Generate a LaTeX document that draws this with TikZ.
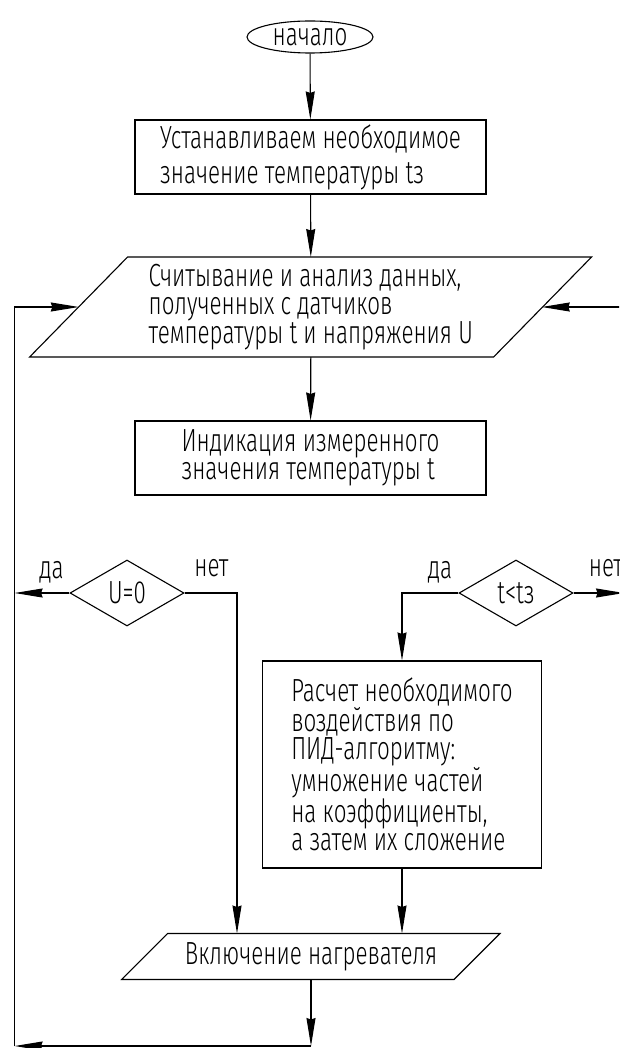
\documentclass[tikz,border=0pt]{standalone}
\usepackage{fontspec}
\IfFontExistsTF{Fira Sans Light}{\setmainfont{Fira Sans Light}[FakeStretch=0.70]}{\setmainfont{DejaVu Sans}[FakeStretch=0.62]}
\usetikzlibrary{shapes.geometric,arrows.meta}
\tikzset{
  blok/.style={draw,rectangle,inner sep=0pt,align=left},
  vvod/.style={inner sep=0pt,align=left},
  uslovie/.style={draw,diamond,inner sep=0pt},
  strelka/.style={->,>={Stealth[length=28pt,width=9pt,inset=1.5pt]}},
  metka/.style={inner sep=0pt}
}
\begin{document}
\begin{tikzpicture}[x=1pt,y=-1pt,line width=1.1pt,font=\fontsize{32}{28}\selectfont]
\clip (0,0) rectangle (619,1048);
\node[ellipse,draw,minimum width=126pt,minimum height=32pt,inner sep=0pt] (nachalo) at (310,37) {начало};
\node[blok,minimum width=351pt,minimum height=74pt,font=\fontsize{32}{35}\selectfont] (zadanie) at (310.5,157) {Устанавливаем необходимое\\значение температуры tз};
\node[vvod] (chtenie) at (310.8,307) {Считывание и анализ данных,\\полученных с датчиков\\температуры t и напряжения U};
\draw (chtenie.center) ++(-281.2,50) -- ++(464,0) -- ++(98,-100) -- ++(-464,0) -- cycle;
\node[blok,minimum width=351pt,minimum height=74pt,font=\fontsize{32}{26}\selectfont] (indikacia) at (310.5,458) {Индикация измеренного\\значения температуры t};
\node[uslovie,minimum width=114pt,minimum height=66pt] (proverkaU) at (127,593) {U=0};
\node[uslovie,minimum width=114pt,minimum height=66pt] (proverkaT) at (516,593) {t<tз};
\node[blok,minimum width=279pt,minimum height=207pt] (raschet) at (402,764.5) {Расчет необходимого\\воздействия по\\ПИД-алгоритму:\\умножение частей\\на коэффициенты,\\а затем их сложение};
\node[vvod] (nagrev) at (311,956.5) {Включение нагревателя};
\draw (nagrev.center) ++(-189.4,23) -- ++(332.4,0) -- ++(46,-46) -- ++(-332.4,0) -- cycle;
\node[metka] (daU) at (51.5,572) {да};
\node[metka] (netUm) at (211.5,568) {нет};
\node[metka] (daT) at (440,572) {да};
\node[metka] (netTm) at (606,568) {нет};
\coordinate (chtenieT) at ([yshift=50pt]chtenie.center);
\coordinate (chtenieB) at ([yshift=-50pt]chtenie.center);
\coordinate (chtenieL) at ([xshift=-232pt]chtenie.center);
\coordinate (chtenieR) at ([xshift=231pt]chtenie.center);
\coordinate (nagrevT) at ([yshift=23pt]nagrev.center);
\coordinate (nagrevB) at ([yshift=-23pt]nagrev.center);
\coordinate (ugol) at (14.6,1046);
\coordinate (sbor) at (311,1046);
\coordinate (netU) at (237,593);
\coordinate (netT) at (624,593);
\coordinate (sprava) at (624,307);
\draw[strelka] (nachalo) -- (zadanie);
\draw[strelka] (zadanie) -- (chtenieT);
\draw[strelka] (chtenieB) -- (indikacia);
\draw[strelka] (proverkaU.west) -- (proverkaU.west -| ugol);
\draw[strelka] (proverkaU.east) -- (netU) -- (netU |- nagrevT);
\draw[strelka] (proverkaT.west) -| (raschet.north);
\draw[strelka] (proverkaT.east) -- (netT);
\draw[strelka] (raschet) -- (raschet.south |- nagrevT);
\draw[strelka] (nagrevB) -- (sbor);
\draw[strelka] (sbor) -- (ugol);
\draw[strelka] (ugol) |- (chtenieL);
\draw[strelka] (sprava) -- (chtenieR);
\end{tikzpicture}
\end{document}
